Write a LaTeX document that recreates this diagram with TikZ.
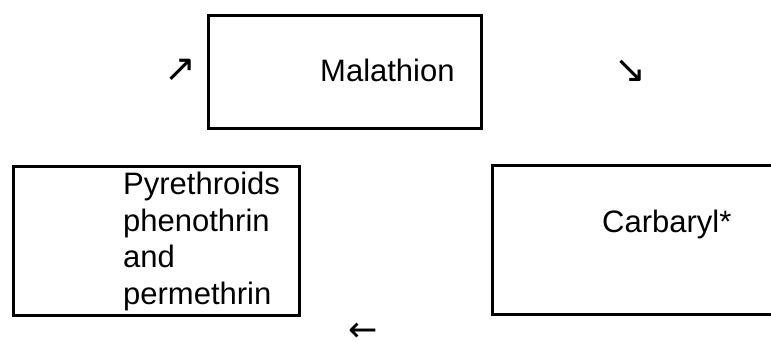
\documentclass[tikz,border=0pt]{standalone}
\usepackage{fontspec}
\setmainfont{Liberation Sans}
\newfontfamily\arrowfont{DejaVu Sans}
\begin{document}
\begin{tikzpicture}[x=1pt,y=-1pt,
  boxline/.style={draw=black,line width=3pt},
  label/.style={inner sep=0pt,font=\fontsize{31}{36.4}\selectfont},
  diagglyph/.style={inner sep=0pt,font=\arrowfont\fontsize{38}{42}\selectfont},
  leftglyph/.style={inner sep=0pt,font=\arrowfont\fontsize{35}{40}\selectfont,text depth=0pt}]
\useasboundingbox (0,0) rectangle (771,342);
% boxes
\node[boxline,minimum width=273pt,minimum height=113pt,anchor=north west,inner sep=0pt] (top) at (207,14) {};
\node[boxline,minimum width=286pt,minimum height=149pt,anchor=north west,inner sep=0pt] (left) at (12,165) {};
\coordinate (rtl) at (492,165);
\coordinate (rtr) at (780,165);
\coordinate (rbl) at (492,314);
\coordinate (rbr) at (780,314);
\draw[boxline] (rtr) -- (rtl) -- (rbl) -- (rbr);
% texts
\node[label,anchor=base west] (mal) at (320,82) {Malathion};
\node[label,anchor=base west,align=left] (pyr) at (123,304) {Pyrethroids\\phenothrin\\and\\permethrin};
\node[label,anchor=base west] (car) at (602,232) {Carbaryl*};
% arrow glyphs
\node[diagglyph] (a1) at (180,70) {↗};
\node[diagglyph] (a2) at (630,71) {↘};
\node[leftglyph,anchor=base] (a3) at (363,341.5) {←};
\end{tikzpicture}
\end{document}
